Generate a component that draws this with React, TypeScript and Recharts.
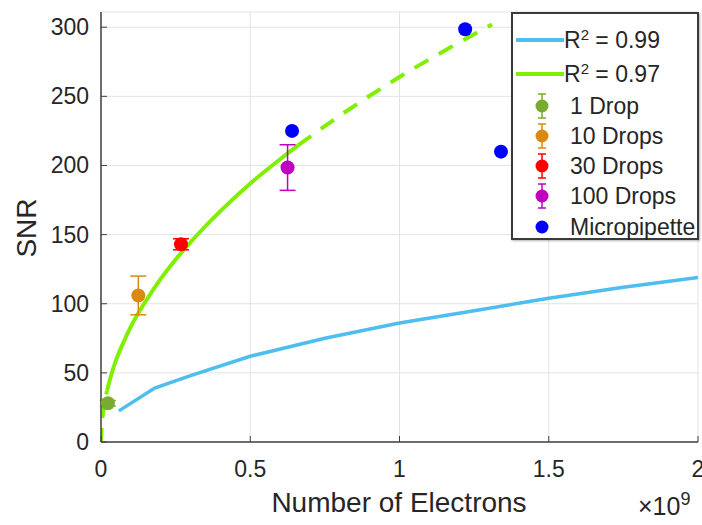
import React from 'react';
import {
  ComposedChart, Line, Scatter, ErrorBar, XAxis, YAxis, CartesianGrid, Legend,
} from 'recharts';

// fit curves (x in units of 1e9 electrons)
const blueFitX = [0.06, 0.18, 0.3, 0.5, 0.75, 1.0, 1.25, 1.5, 1.75, 2.0];
const blueFitY = [22.5, 39, 48, 62, 75, 86, 95, 104, 112, 119];

const greenSolidX = [0.02, 0.035, 0.05, 0.075, 0.1, 0.15, 0.2, 0.25, 0.3, 0.4, 0.5, 0.6, 0.66];
const greenSolidY = [37, 49, 59, 72, 83.5, 102, 118, 132, 144.5, 167, 187, 204.5, 214.5];
const greenDashX = [0, 0.003, 0.01, 0.02];
const greenDashY = [0, 14.5, 26.4, 37];
const greenExtX = [0.66, 0.8, 1.0, 1.2, 1.31];
const greenExtY = [214.5, 236, 264, 289, 302];

// measured points
const groupNames = ['1 Drop', '10 Drops', '30 Drops', '100 Drops'];
const groupX = [0.023, 0.125, 0.268, 0.625];
const groupY = [28, 106, 143, 198.5];
const groupErr = [2, 14, 4, 16.5];
const groupColors = ['#77AC30', '#D98A0F', '#FF0000', '#BF00BF'];

const pipetteX = [0.64, 1.22, 1.34];
const pipetteY = [225, 298.5, 210];

const xTicks = [0, 0.5, 1, 1.5, 2];
const yTicks = [0, 50, 100, 150, 200, 250, 300];

const zip = (xs: number[], ys: number[]) => xs.map((x, i) => ({ x, y: ys[i] }));

const FONT = '"Liberation Sans", Arial, sans-serif';
const TEXT = '#262626';
const AXIS = '#404040';

const YTick = (props: any) => {
  const { x, y, payload } = props;
  return (
    <g>
      <line x1={x + 12} x2={x + 18} y1={y} y2={y} stroke={AXIS} strokeWidth={1} />
      <text x={x} y={y} dy={8} textAnchor="end" fontSize={23} fill={TEXT} fontFamily={FONT}>
        {payload.value}
      </text>
    </g>
  );
};

const XTick = (props: any) => {
  const { x, y, payload } = props;
  return (
    <g>
      <line x1={x} x2={x} y1={y - 14} y2={y - 20} stroke={AXIS} strokeWidth={1} />
      <text x={x} y={y} dy={21} textAnchor="middle" fontSize={23} fill={TEXT} fontFamily={FONT}>
        {payload.value}
      </text>
    </g>
  );
};

const ErrMarker = ({ color }: { color: string }) => (
  <svg width={30} height={30}>
    <line x1={15} x2={15} y1={3} y2={27} stroke={color} strokeWidth={1.5} />
    <line x1={11} x2={19} y1={3} y2={3} stroke={color} strokeWidth={1.5} />
    <line x1={11} x2={19} y1={27} y2={27} stroke={color} strokeWidth={1.5} />
    <circle cx={15} cy={15} r={6.5} fill={color} />
  </svg>
);

const renderLegend = () => (
  <div
    style={{
      background: '#fff', border: '2px solid #3a3a3a', boxShadow: '1px 1px 2px rgba(0,0,0,0.3)',
      width: 188, height: 228, boxSizing: 'border-box', fontFamily: FONT, fontSize: 23, color: TEXT,
      padding: '9px 0 0 3px',
    }}
  >
    {[
      { c: '#4DBEEE', t: '0.99' },
      { c: '#80F000', t: '0.97' },
    ].map((r) => (
      <div key={r.t} style={{ display: 'flex', alignItems: 'center', height: 34 }}>
        <div style={{ width: 48, height: 4, background: r.c }} />
        <span>
          R<sup style={{ fontSize: 15, verticalAlign: 'top', lineHeight: '16px' }}>2</sup> = {r.t}
        </span>
      </div>
    ))}
    {groupNames.map((n, i) => (
      <div key={n} style={{ display: 'flex', alignItems: 'center', height: 30 }}>
        <div style={{ width: 52, display: 'flex', justifyContent: 'center', marginRight: 2 }}>
          <ErrMarker color={groupColors[i]} />
        </div>
        <span>{n}</span>
      </div>
    ))}
    <div style={{ display: 'flex', alignItems: 'center', height: 32 }}>
      <div style={{ width: 52, display: 'flex', justifyContent: 'center', marginRight: 2 }}>
        <svg width={14} height={14}><circle cx={7} cy={7} r={6.5} fill="#0000FF" /></svg>
      </div>
      <span>Micropipette</span>
    </div>
  </div>
);

export default function App() {
  return (
    <div style={{ position: 'absolute', left: 0, top: 0, width: 702, height: 525, background: '#fff' }}>
      <ComposedChart width={702} height={525} margin={{ top: 12, right: 4, left: 0, bottom: 0 }}>
        <CartesianGrid xAxisId="b" yAxisId="l" stroke="#e3e3e3" strokeWidth={1} />
        <XAxis
          xAxisId="b" type="number" dataKey="x" domain={[0, 2]} ticks={xTicks} height={83}
          tickSize={0} tickMargin={14} tick={<XTick />} axisLine={{ stroke: AXIS, strokeWidth: 1.5 }}
          allowDataOverflow
        />
        <XAxis
          xAxisId="t" orientation="top" type="number" domain={[0, 2]} ticks={xTicks} height={0}
          tick={false} tickLine={false} axisLine={{ stroke: AXIS, strokeWidth: 1.5 }}
        />
        <YAxis
          yAxisId="l" type="number" domain={[0, 311]} ticks={yTicks} width={101}
          tickSize={0} tickMargin={12} tick={<YTick />} axisLine={{ stroke: AXIS, strokeWidth: 1.5 }}
          allowDataOverflow
        />
        <YAxis
          yAxisId="r" orientation="right" type="number" domain={[0, 311]} width={0}
          tick={false} tickLine={false} axisLine={{ stroke: AXIS, strokeWidth: 1.5 }}
        />

        <Line xAxisId="b" yAxisId="l" data={zip(blueFitX, blueFitY)} dataKey="y" stroke="#4DBEEE"
          strokeWidth={3.5} dot={false} isAnimationActive={false} legendType="none" />
        <Line xAxisId="b" yAxisId="l" data={zip(greenDashX, greenDashY)} dataKey="y" stroke="#80F000"
          strokeWidth={4} strokeDasharray="14 10" dot={false} isAnimationActive={false} legendType="none" />
        <Line xAxisId="b" yAxisId="l" type="monotone" data={zip(greenSolidX, greenSolidY)} dataKey="y"
          stroke="#80F000" strokeWidth={4} dot={false} isAnimationActive={false} legendType="none" />
        <Line xAxisId="b" yAxisId="l" type="monotone" data={zip(greenExtX, greenExtY)} dataKey="y"
          stroke="#80F000" strokeWidth={4} strokeDasharray="16 12" dot={false} isAnimationActive={false}
          legendType="none" />

        {groupNames.map((n, i) => (
          <Scatter
            key={n} name={n} xAxisId="b" yAxisId="l" dataKey="y"
            data={[{ x: groupX[i], y: groupY[i], err: groupErr[i] }]}
            fill={groupColors[i]} isAnimationActive={false}
            shape={(p: any) => <circle cx={p.cx} cy={p.cy} r={7} fill={groupColors[i]} />}
          >
            <ErrorBar dataKey="err" direction="y" width={8} stroke={groupColors[i]} strokeWidth={1.5}
              isAnimationActive={false} />
          </Scatter>
        ))}
        <Scatter
          name="Micropipette" xAxisId="b" yAxisId="l" dataKey="y" data={zip(pipetteX, pipetteY)}
          fill="#0000FF" isAnimationActive={false}
          shape={(p: any) => <circle cx={p.cx} cy={p.cy} r={7} fill="#0000FF" />}
        />

        <Legend
          layout="vertical" align="center" verticalAlign="middle" content={renderLegend}
          wrapperStyle={{ top: 12, left: 511, width: 188 }}
        />
      </ComposedChart>

      <div style={{
        position: 'absolute', left: 27, top: 228, transform: 'translate(-50%, -50%) rotate(-90deg)',
        fontFamily: FONT, fontSize: 28, color: TEXT, whiteSpace: 'nowrap',
      }}>SNR</div>
      <div style={{
        position: 'absolute', left: 399, top: 503, transform: 'translate(-50%, -50%)',
        fontFamily: FONT, fontSize: 28, color: TEXT, whiteSpace: 'nowrap',
      }}>Number of Electrons</div>
      <div style={{
        position: 'absolute', left: 638, top: 492, fontFamily: FONT, fontSize: 25, color: TEXT,
        whiteSpace: 'nowrap',
      }}>
        ×10<sup style={{ fontSize: 18, verticalAlign: 'top', lineHeight: '14px' }}>9</sup>
      </div>
    </div>
  );
}
